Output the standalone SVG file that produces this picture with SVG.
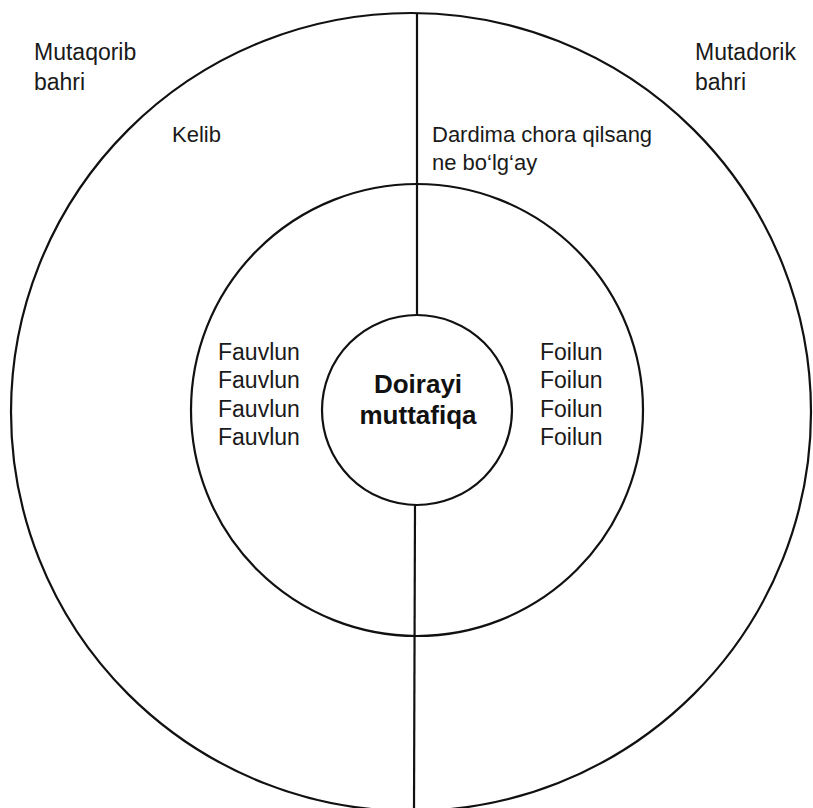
<svg xmlns="http://www.w3.org/2000/svg" width="813" height="808" viewBox="0 0 813 808">
<style>
.ln{fill:none;stroke:#111;stroke-width:2.2}
.t{font-family:"Liberation Sans",Arial,Helvetica,sans-serif;font-size:22px;fill:#1a1a1a}
.m{font-size:23px}
.b{font-family:"Liberation Sans",Arial,Helvetica,sans-serif;font-size:26px;font-weight:bold;fill:#111}
</style>
<rect width="813" height="808" fill="#fff"/>
<g id="outer-circle"><ellipse class="ln" cx="411" cy="412" rx="400" ry="399"/></g>
<g id="middle-circle"><circle class="ln" cx="417" cy="410" r="226"/></g>
<g id="center-node">
<circle class="ln" cx="417" cy="410" r="95" fill="#fff"/>
<text class="b" x="418" y="393" text-anchor="middle">Doirayi</text>
<text class="b" x="418" y="424" text-anchor="middle">muttafiqa</text>
</g>
<g id="connectors">
<line class="ln" x1="417" y1="13" x2="417" y2="315"/>
<line class="ln" x1="415" y1="505" x2="414" y2="808"/>
</g>
<g id="left-labels">
<text class="t m" x="34" y="60">Mutaqorib</text>
<text class="t m" x="34" y="90">bahri</text>
<text class="t" x="172" y="142">Kelib</text>
<text class="t m" x="218" y="360">Fauvlun</text>
<text class="t m" x="218" y="388">Fauvlun</text>
<text class="t m" x="218" y="417">Fauvlun</text>
<text class="t m" x="218" y="445">Fauvlun</text>
</g>
<g id="right-labels">
<text class="t m" x="695" y="60">Mutadorik</text>
<text class="t m" x="695" y="90">bahri</text>
<text class="t" x="432" y="142">Dardima chora qilsang</text>
<text class="t" x="432" y="170">ne bo‘lg‘ay</text>
<text class="t m" x="540" y="360">Foilun</text>
<text class="t m" x="540" y="388">Foilun</text>
<text class="t m" x="540" y="417">Foilun</text>
<text class="t m" x="540" y="445">Foilun</text>
</g>
</svg>
